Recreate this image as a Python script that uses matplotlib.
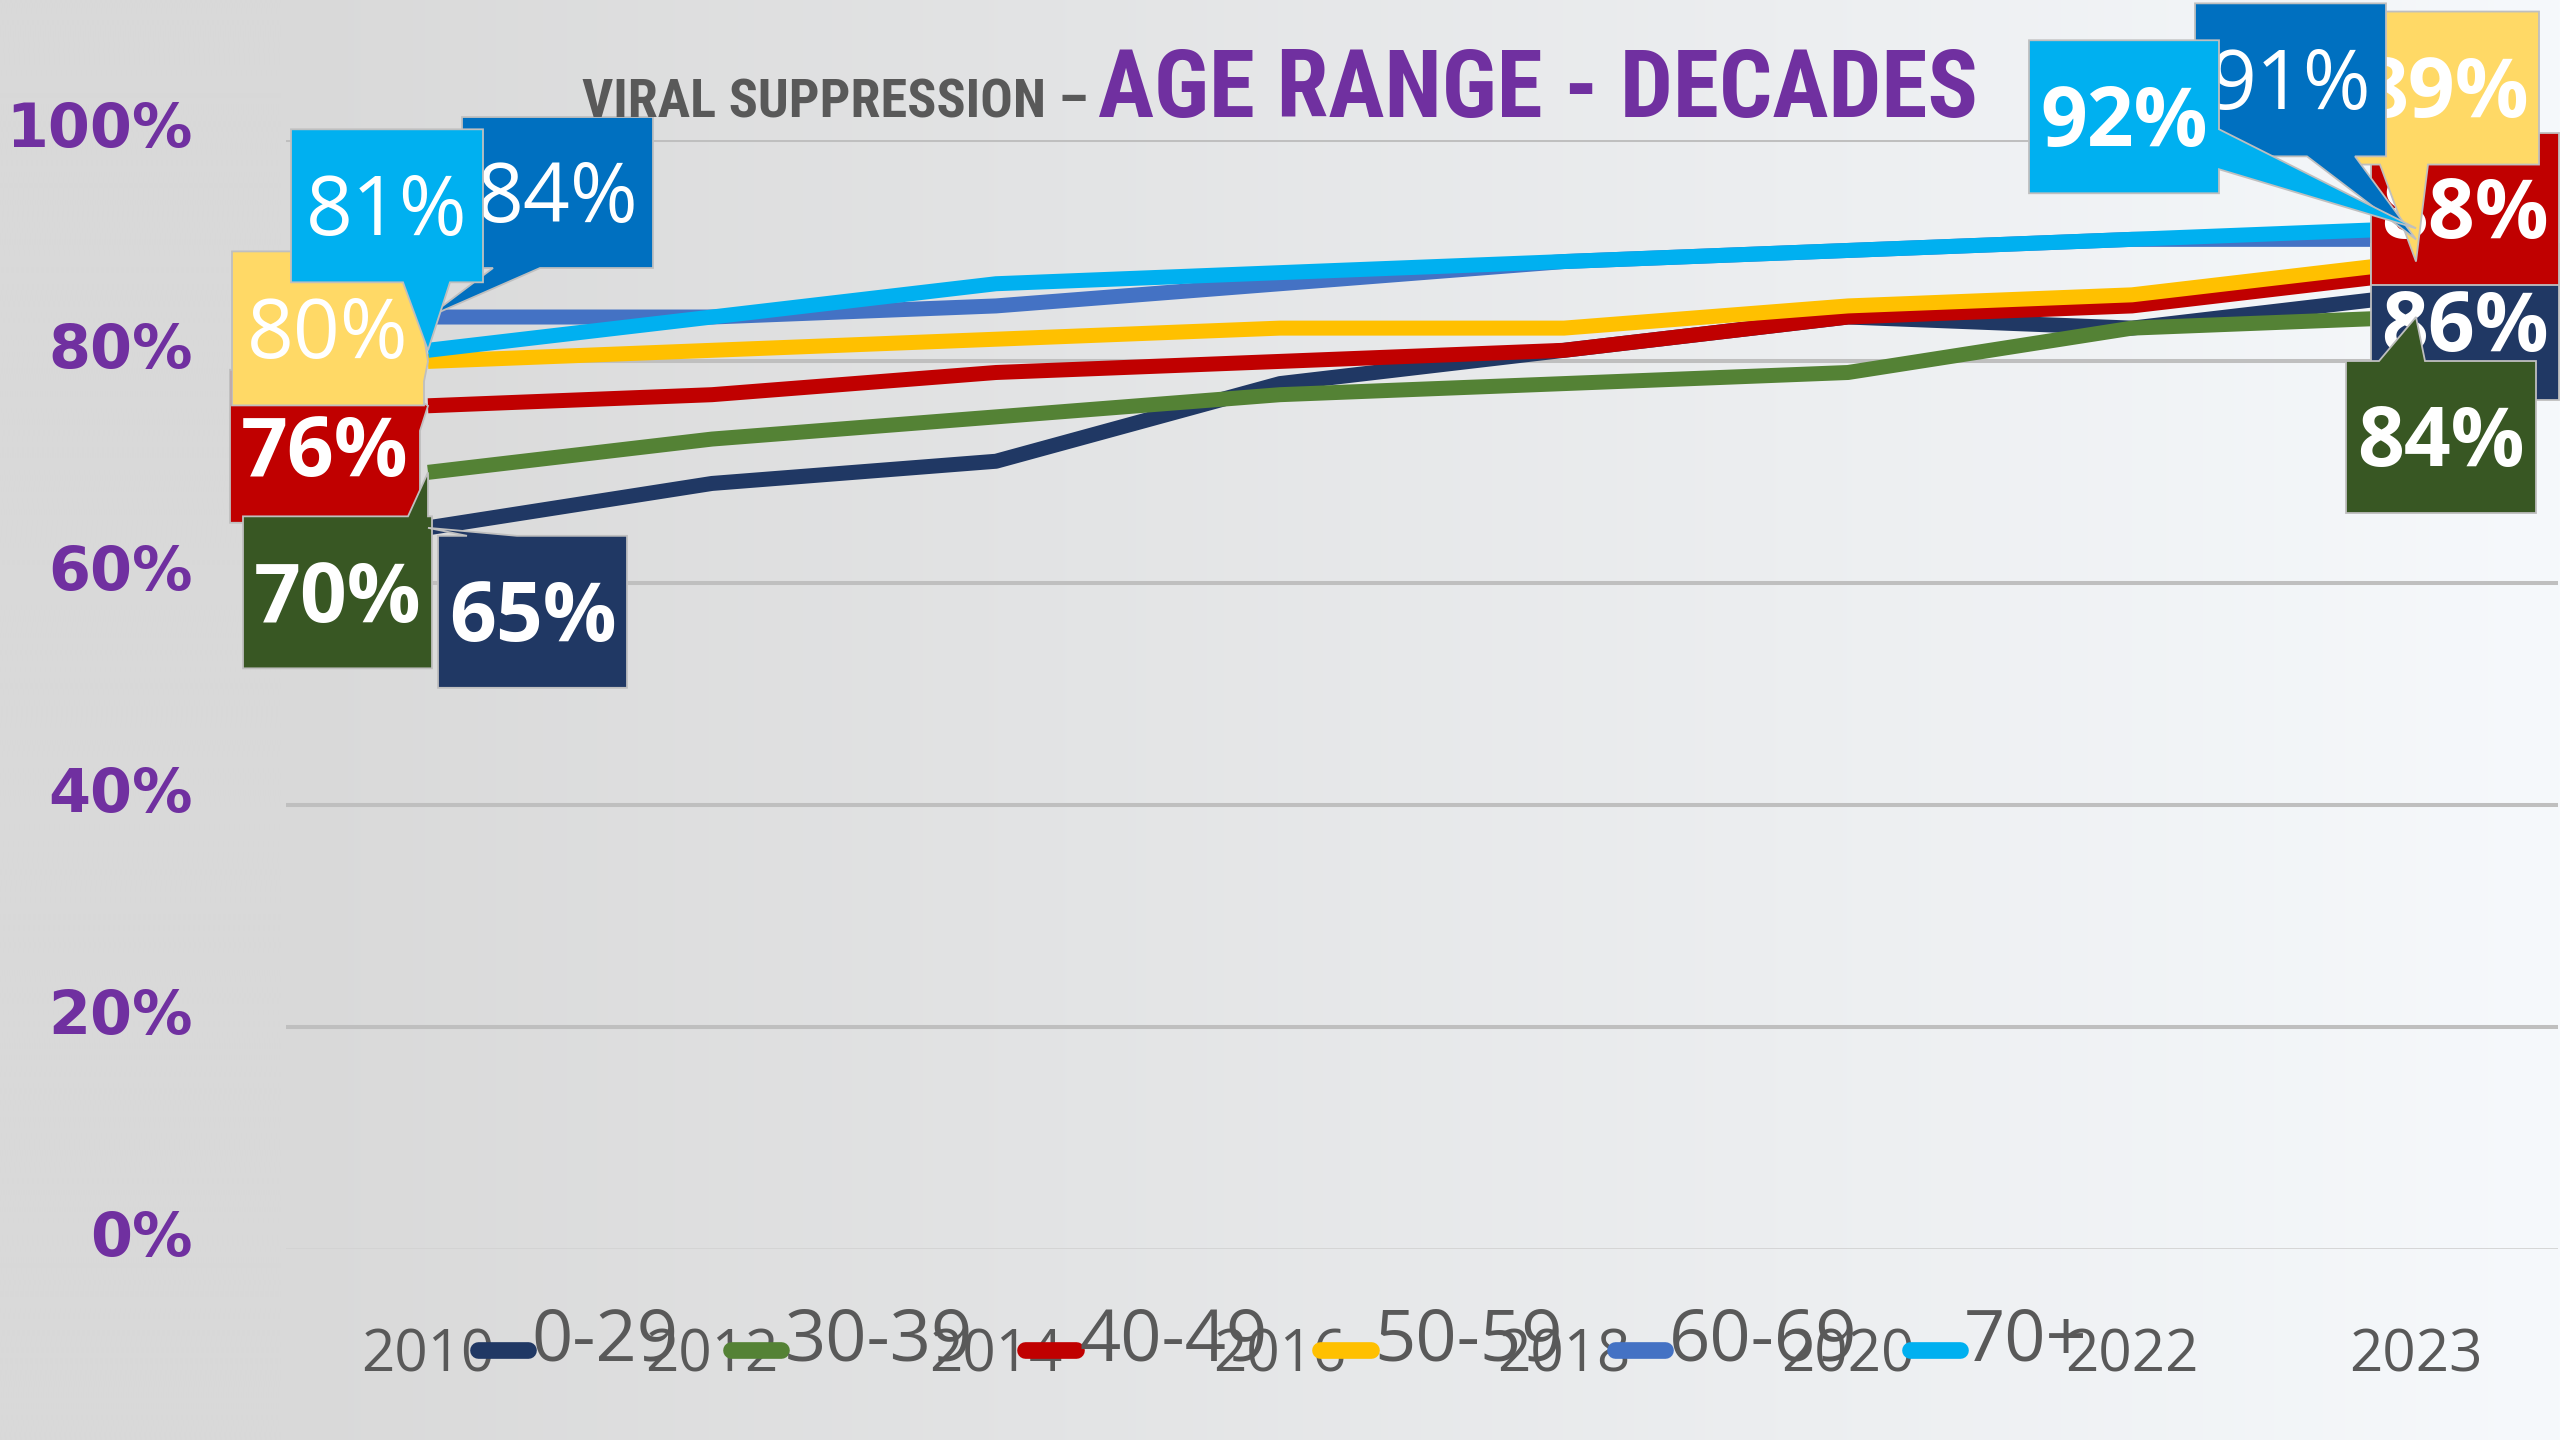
import numpy as np
import matplotlib
matplotlib.use('Agg')
import matplotlib.pyplot as plt
from matplotlib.patches import Polygon
from matplotlib.transforms import Affine2D, ScaledTranslation
from matplotlib.lines import Line2D
from matplotlib.legend_handler import HandlerLine2D
from matplotlib.colors import to_rgb

# ---------------- data ----------------
years = ['2010', '2012', '2014', '2016', '2018', '2020', '2022', '2023']
age_groups = ['0-29', '30-39', '40-49', '50-59', '60-69', '70+']
s_0_29 = [65, 69, 71, 78, 81, 84, 83, 86]
s_30_39 = [70, 73, 75, 77, 78, 79, 83, 84]
s_40_49 = [76, 77, 79, 80, 81, 84, 85, 88]
s_50_59 = [80, 81, 82, 83, 83, 85, 86, 89]
s_60_69 = [84, 84, 85, 87, 89, 90, 91, 91]
s_70_plus = [81, 84, 87, 88, 89, 90, 91, 92]
y_ticks = [0, 20, 40, 60, 80, 100]

series = [s_0_29, s_30_39, s_40_49, s_50_59, s_60_69, s_70_plus]

# ---------------- styles ----------------
line_colors = ['#203864', '#548235', '#C00000', '#FFC000', '#4472C4', '#00B0F0']
box_colors = ['#203864', '#385723', '#C00000', '#FFD966', '#0070C0', '#00B0F0']
PURPLE = '#7030A0'
GRAY_TXT = '#595959'

# callout layouts (pixel offsets from the data point, y downward):
# box (x0, x1, y0, y1), pointer side, pointer base (a, b), bold, zorder
left_layout = {
    0: ((10, 199, 8, 160), 'top', (39, 89), True, 16),
    1: ((-185, 4, 44, 196), 'top', (-20, 0), True, 15),
    2: ((-198, -8, -36, 117), 'right', (-5, 25), True, 12),
    3: ((-196, -4, -110, 44), 'right', (-25, 20), False, 13),
    4: ((34, 225, -200, -49), 'bottom', (65, 112), False, 11),
    5: ((-137, 55, -221, -68), 'bottom', (-25, 22), False, 14),
}
right_layout = {
    0: ((-45, 143, -51, 105), None, None, True, 11),
    1: ((-70, 120, 44, 196), 'top', (-37, 9), True, 16),
    2: ((-45, 143, -140, 12), None, None, True, 12),
    3: ((-66, 123, -250, -97), 'bottom', (-36, 12), True, 13),
    4: ((-221, -30, -236, -83), 'bottom', (-109, -61), False, 14),
    5: ((-387, -197, -188, -35), 'right', (-99, -59), True, 15),
}

W, H = 2560, 1440
fig = plt.figure(figsize=(W / 100, H / 100), dpi=100)

# background gradient
bg = fig.add_axes([0, 0, 1, 1], zorder=-10)
xs = np.linspace(0, 1, 1024)
t = np.clip((xs - 0.11) / 0.89, 0, 1)[:, None]
c0 = np.array(to_rgb('#D9D9D9'))
c1 = np.array(to_rgb('#F6F9FC'))
grad = (c0 + t * (c1 - c0))[None, :, :]
bg.imshow(grad, aspect='auto', extent=[0, 1, 0, 1], interpolation='bilinear')
bg.set_xlim(0, 1)
bg.set_ylim(0, 1)
bg.axis('off')

ax = fig.add_axes([286 / W, 191 / H, 2272 / W, 1109.5 / H])
ax.patch.set_alpha(0)
for sp in ax.spines.values():
    sp.set_visible(False)

xi = np.arange(len(years))

# gridlines
for v in y_ticks:
    if v == 0:
        ax.axhline(v, color='#D3D3D3', lw=2.0, zorder=1)
    else:
        ax.axhline(v, color='#BFBFBF', lw=2.9, zorder=1)

for s, c in zip(series, line_colors):
    ax.plot(xi, s, color=c, lw=10.8, solid_joinstyle='round',
            solid_capstyle='butt', zorder=3)

ax.set_xlim(-0.5, len(years) - 0.5)
ax.set_ylim(0, 100)

ax.set_xticks(xi, years)
ax.set_yticks(y_ticks, [f'{v}%' for v in y_ticks])
ax.tick_params(axis='x', length=0, pad=56, labelsize=42, labelcolor=GRAY_TXT)
ax.tick_params(axis='y', length=0, pad=67, labelsize=43.5, labelcolor=PURPLE)
for lab in ax.get_xticklabels():
    lab.set_fontfamily('Open Sans')
for lab in ax.get_yticklabels():
    lab.set_fontfamily('DejaVu Sans')
    lab.set_fontweight('bold')
    lab.set_transform(lab.get_transform() + Affine2D().translate(0, 16))


def callout(x, v, color, text, bold, box, side, base, z):
    x0, x1, y0, y1 = box
    pts = [(x0, y0)]
    if side == 'top':
        pts += [(base[0], y0), (0, 0), (base[1], y0)]
    pts.append((x1, y0))
    if side == 'right':
        pts += [(x1, base[0]), (0, 0), (x1, base[1])]
    pts.append((x1, y1))
    if side == 'bottom':
        pts += [(base[1], y1), (0, 0), (base[0], y1)]
    pts.append((x0, y1))
    if side == 'left':
        pts += [(x0, base[1]), (0, 0), (x0, base[0])]
    tr = Affine2D().scale(1, -1) + ScaledTranslation(x, v, ax.transData)
    ax.add_patch(Polygon(pts, closed=True, facecolor=color, edgecolor='#BFBFBF',
                         lw=1.3, transform=tr, clip_on=False, zorder=z))
    fs = 59
    cap = fs * 100 / 72 * 0.714
    ax.text((x0 + x1) / 2, (y0 + y1) / 2 + cap / 2, text, transform=tr,
            ha='center', va='baseline', color='white', fontsize=fs,
            fontfamily='Open Sans', fontweight='bold' if bold else 'normal',
            zorder=z, clip_on=False)


for i, s in enumerate(series):
    box, side, base, bold, z = left_layout[i]
    callout(xi[0], s[0], box_colors[i], f'{s[0]}%', bold, box, side, base, z)
    box, side, base, bold, z = right_layout[i]
    callout(xi[-1], s[-1], box_colors[i], f'{s[-1]}%', bold, box, side, base, z)

ax.set_xlim(-0.5, len(years) - 0.5)
ax.set_ylim(0, 100)


# legend
class LowLineHandler(HandlerLine2D):
    def create_artists(self, legend, orig_handle, xdescent, ydescent,
                       width, height, fontsize, trans):
        arts = super().create_artists(legend, orig_handle, xdescent, ydescent,
                                      width, height, fontsize, trans)
        for a in arts:
            if isinstance(a, Line2D):
                a.set_ydata(np.asarray(a.get_ydata(), float) - 0.2 * fontsize)
        return arts


handles = [Line2D([], [], color=c, lw=12, solid_capstyle='round') for c in line_colors]
fig.legend(handles, age_groups, loc='center', bbox_to_anchor=(0.501, 0.068), ncol=6,
           frameon=False, prop={'family': 'Open Sans', 'size': 52},
           labelcolor=GRAY_TXT, handlelength=0.7, handletextpad=0.05,
           columnspacing=0.72, borderpad=0, borderaxespad=0,
           handler_map={Line2D: LowLineHandler()})

# title
title_fam = ['Roboto Condensed', 'Roboto', 'DejaVu Sans']
fig.text(1088 / W, 1 - 117.5 / H, 'VIRAL SUPPRESSION –', ha='right', va='baseline',
         color=GRAY_TXT, fontsize=39, fontweight='bold', family=title_fam)
fig.text(1098 / W, 1 - 117.5 / H, 'AGE RANGE - DECADES', ha='left', va='baseline',
         color=PURPLE, fontsize=67.5, fontweight='bold', family=title_fam)

fig.savefig('out.png', dpi=100)
